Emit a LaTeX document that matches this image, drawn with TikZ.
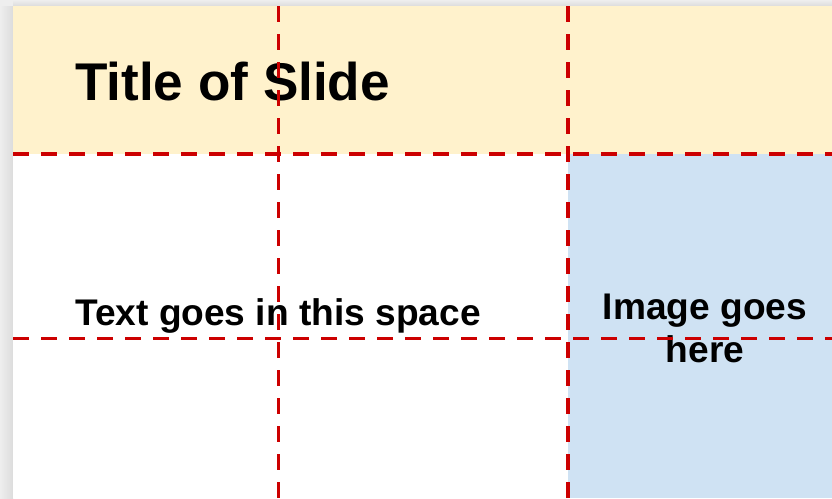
\documentclass[tikz,border=0pt]{standalone}
\usepackage{fontspec}
\setmainfont{Liberation Sans}
\definecolor{titlebg}{HTML}{FFF2CC}
\definecolor{imgbg}{HTML}{CFE2F3}
\definecolor{guide}{HTML}{CC0000}
\definecolor{shadowA}{HTML}{EEEEEE}
\definecolor{shadowB}{HTML}{DCDCDC}
\begin{document}
\begin{tikzpicture}[x=1pt,y=-1pt,
  guideline/.style={draw=guide,line width=3.5pt,dash pattern=on 16pt off 12pt},
  txt/.style={inner sep=0pt,font=\bfseries}]
\useasboundingbox (0,0) rectangle (832,498);
% shadow
\fill[shadowA] (0,0) rectangle (832,498);
\shade[left color=shadowA,right color=shadowB] (0,6) rectangle (13,498);
\shade[top color=shadowA,bottom color=shadowB] (13,0) rectangle (832,6);
% slide
\fill[white] (13,6) rectangle (832,498);
\fill[titlebg] (13,6) rectangle (832,154);
\fill[imgbg] (568,154) rectangle (832,498);
% texts
\node[txt,anchor=base west,font=\bfseries\fontsize{53.1}{60}\selectfont] (title) at (75,100) {Title of Slide};
\node[txt,anchor=base west,font=\bfseries\fontsize{37.1}{42}\selectfont] (body) at (75,325.5) {Text goes in this space};
\node[txt,anchor=base,font=\bfseries\fontsize{37.1}{42}\selectfont] (img1) at (705,319) {Image goes};
\node[txt,anchor=base,font=\bfseries\fontsize{37.1}{42}\selectfont] (img2) at (705,362.5) {here};
% guides
\draw[guideline] (278.5,6) -- (278.5,498);
\draw[guideline] (568,6) -- (568,498);
\draw[guideline] (13,154) -- (832,154);
\draw[guideline] (13,338.7) -- (832,338.7);
\end{tikzpicture}
\end{document}
